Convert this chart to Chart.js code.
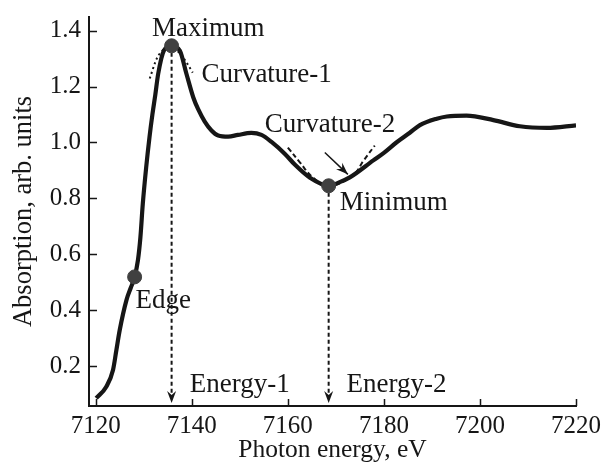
<!DOCTYPE html>
<html>
<head>
<meta charset="utf-8">
<script src="https://cdn.jsdelivr.net/npm/chart.js@4/dist/chart.umd.min.js"></script>
<style>
  body { margin: 0; background: #fff; }
  #wrap { width: 604px; height: 466px; }
</style>
</head>
<body>
<div id="wrap"><canvas id="myChart"></canvas></div>
<script>
// spectrum
const energy = [7120.1, 7122.2, 7123.6, 7124.3, 7125.0, 7126.4, 7127.3, 7128.1, 7128.8, 7129.3,
  7129.8, 7130.5, 7131.2, 7131.8, 7132.4, 7133.0, 7134.2, 7135.8, 7137.5, 7138.9,
  7140.3, 7141.3, 7142.7, 7144.1, 7145.5, 7147.6, 7149.6, 7152.4, 7154.5, 7156.6,
  7159.4, 7161.5, 7164.6, 7168.5, 7170.8, 7172.9, 7177.8, 7180.0, 7182.6, 7185.4,
  7187.5, 7191.0, 7193.1, 7197.2, 7202.8, 7208.3, 7213.9, 7220.0];
const absorption = [0.085, 0.126, 0.186, 0.257, 0.329, 0.436, 0.48, 0.519, 0.58, 0.66,
  0.78, 0.91, 1.02, 1.10, 1.17, 1.245, 1.329, 1.346, 1.329, 1.245,
  1.162, 1.12, 1.075, 1.043, 1.025, 1.021, 1.027, 1.034, 1.027, 1.002,
  0.959, 0.92, 0.874, 0.845, 0.858, 0.875, 0.936, 0.963, 1.0, 1.035,
  1.062, 1.085, 1.093, 1.096, 1.08, 1.058, 1.052, 1.061];

// marked points: edge, maximum, minimum
const markE = [7128.1, 7135.8, 7168.5];
const markA = [0.519, 1.346, 0.845];

// fitted parabolas (dotted)
const curv1E = [7131.25, 7132.7, 7134.3, 7135.8, 7137.5, 7138.75, 7140.2];
const curv1A = [1.229, 1.30, 1.335, 1.346, 1.318, 1.29, 1.25];
const curv2E = [7160.0, 7162.5, 7165.2, 7168.5, 7173.5, 7175.8, 7178.1];
const curv2A = [0.982, 0.929, 0.875, 0.845, 0.882, 0.936, 0.989];

const xTicks = [7120, 7140, 7160, 7180, 7200, 7220];
const yTicks = [0.2, 0.4, 0.6, 0.8, 1.0, 1.2, 1.4];

// text labels: [text, energy, absorption] (left edge, baseline)
const labels = [
  ['Maximum', 7131.7, 1.382],
  ['Curvature-1', 7142.0, 1.215],
  ['Curvature-2', 7155.2, 1.037],
  ['Minimum', 7170.8, 0.757],
  ['Edge', 7128.3, 0.406],
  ['Energy-1', 7139.6, 0.107],
  ['Energy-2', 7172.2, 0.107]
];

const ink = '#161616';
const serif = "'Liberation Serif', 'Times New Roman', serif";
const pts = (xs, ys) => xs.map((x, i) => ({x: x, y: ys[i]}));

function arrowHead(ctx, x, y, ang) {
  ctx.save();
  ctx.translate(x, y);
  ctx.rotate(ang);
  ctx.beginPath();
  ctx.moveTo(0, 0);
  ctx.lineTo(-12, -4.5);
  ctx.lineTo(-8, 0);
  ctx.lineTo(-12, 4.5);
  ctx.closePath();
  ctx.fill();
  ctx.restore();
}

const extras = {
  id: 'extras',
  beforeDatasetsDraw(chart) {
    const {ctx, scales: {x, y}} = chart;
    ctx.save();
    ctx.strokeStyle = ink;
    ctx.fillStyle = ink;
    ctx.lineWidth = 2;
    // energy arrows down from maximum and minimum
    [1, 2].forEach(i => {
      const px = x.getPixelForValue(markE[i]);
      const top = y.getPixelForValue(markA[i]);
      const tip = y.bottom - 3;
      ctx.setLineDash([4, 3]);
      ctx.beginPath();
      ctx.moveTo(px, top);
      ctx.lineTo(px, tip - 6);
      ctx.stroke();
      ctx.setLineDash([]);
      arrowHead(ctx, px, tip, Math.PI / 2);
    });
    ctx.restore();
  },
  afterDraw(chart) {
    const {ctx, scales: {x, y}} = chart;
    ctx.save();
    ctx.strokeStyle = ink;
    ctx.fillStyle = ink;
    // inward tick marks
    ctx.lineWidth = 1.5;
    ctx.beginPath();
    xTicks.forEach(v => {
      const px = Math.round(x.getPixelForValue(v)) + 0.5;
      ctx.moveTo(px, y.bottom);
      ctx.lineTo(px, y.bottom - 7);
    });
    yTicks.forEach(v => {
      const py = Math.round(y.getPixelForValue(v)) + 0.5;
      ctx.moveTo(x.left, py);
      ctx.lineTo(x.left + 8, py);
    });
    ctx.stroke();
    // arrow pointing at curvature-2
    const x0 = x.getPixelForValue(7167.7), y0 = y.getPixelForValue(0.964);
    const x1 = x.getPixelForValue(7172.5), y1 = y.getPixelForValue(0.886);
    ctx.lineWidth = 1.5;
    ctx.beginPath();
    ctx.moveTo(x0, y0);
    ctx.lineTo(x1, y1);
    ctx.stroke();
    arrowHead(ctx, x1, y1, Math.atan2(y1 - y0, x1 - x0));
    // labels
    ctx.font = '27px ' + serif;
    ctx.textAlign = 'left';
    ctx.textBaseline = 'alphabetic';
    labels.forEach(([t, e, a]) => {
      ctx.fillText(t, x.getPixelForValue(e), y.getPixelForValue(a));
    });
    ctx.restore();
  }
};

const tickFont = {family: serif, size: 25};

new Chart(document.getElementById('myChart'), {
  type: 'line',
  data: {
    datasets: [{
      data: pts(markE, markA),
      showLine: false,
      pointRadius: 7,
      pointBackgroundColor: '#404040',
      pointBorderColor: '#404040',
      order: 0
    }, {
      data: pts(energy, absorption),
      borderColor: ink,
      borderWidth: 4.2,
      pointRadius: 0,
      cubicInterpolationMode: 'monotone',
      fill: false,
      order: 1
    }, {
      data: pts(curv1E, curv1A),
      borderColor: ink,
      borderWidth: 2,
      borderDash: [2, 3],
      pointRadius: 0,
      cubicInterpolationMode: 'monotone',
      order: 2
    }, {
      data: pts(curv2E, curv2A),
      borderColor: ink,
      borderWidth: 2,
      borderDash: [5, 3],
      pointRadius: 0,
      tension: 0.4,
      order: 2
    }]
  },
  options: {
    responsive: true,
    maintainAspectRatio: false,
    animation: false,
    layout: {padding: {top: 17, right: 28, left: 0, bottom: 0}},
    plugins: {legend: {display: false}, tooltip: {enabled: false}},
    scales: {
      x: {
        type: 'linear',
        min: 7118.6,
        max: 7220,
        grid: {display: false, drawTicks: false},
        border: {display: true, color: ink, width: 2},
        afterBuildTicks: s => { s.ticks = xTicks.map(v => ({value: v})); },
        afterFit: s => { s.height = 60; s.paddingLeft = 0; s.paddingRight = 0; },
        ticks: {font: tickFont, color: ink, padding: 5, maxRotation: 0, autoSkip: false,
          callback: v => String(v)},
        title: {display: true, text: 'Photon energy, eV', font: {family: serif, size: 25.5},
          color: ink, padding: {top: 0, bottom: 0}}
      },
      y: {
        min: 0.057,
        max: 1.449,
        grid: {display: false, drawTicks: false},
        border: {display: true, color: ink, width: 2},
        afterBuildTicks: s => { s.ticks = yTicks.map(v => ({value: v})); },
        afterFit: s => { s.width = 89; s.paddingTop = 0; s.paddingBottom = 0; },
        ticks: {font: tickFont, color: ink, padding: 8, autoSkip: false,
          callback: v => v.toFixed(1)},
        title: {display: true, text: 'Absorption, arb. units', font: {family: serif, size: 26.5},
          color: ink, padding: {top: 8, bottom: 0}}
      }
    }
  },
  plugins: [extras]
});
</script>
</body>
</html>
